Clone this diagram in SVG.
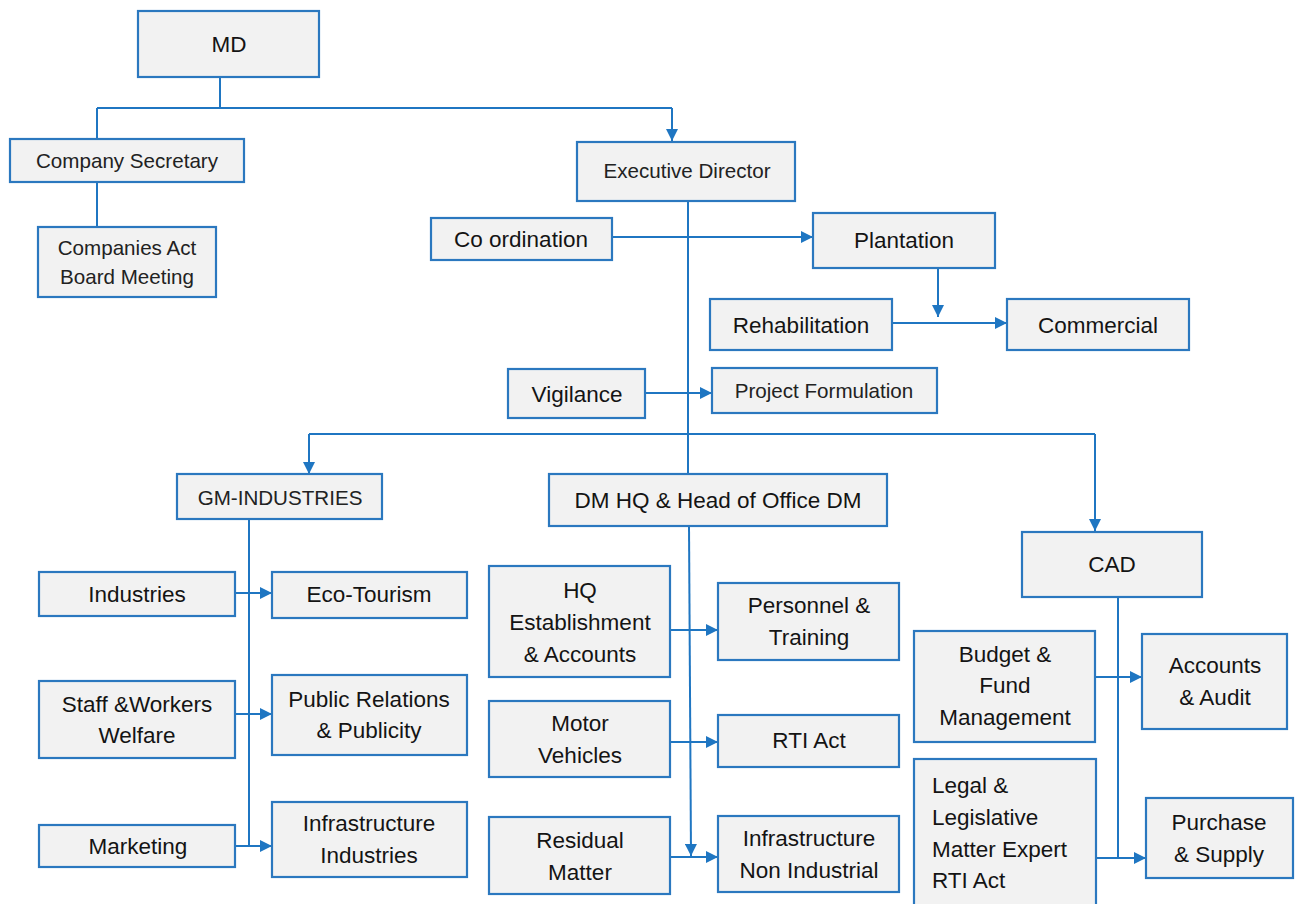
<svg xmlns="http://www.w3.org/2000/svg" width="1296" height="904" viewBox="0 0 1296 904">
  <style>
    .box { fill: #f2f2f2; stroke: #2b78bf; stroke-width: 2.2; }
    .t { font-family: "Liberation Sans", Arial, sans-serif; font-size: 22.5px; fill: #141414; text-anchor: middle; }
    .s { font-family: "Liberation Sans", Arial, sans-serif; font-size: 20.6px; fill: #222; text-anchor: middle; }
    .l { text-anchor: start; }
    .wire { fill: none; stroke: #1f76c2; stroke-width: 2; }
    .arr { marker-end: url(#head); }
  </style>
  <defs>
    <marker id="head" markerUnits="userSpaceOnUse" markerWidth="12" markerHeight="12" refX="12" refY="6" orient="auto">
      <path d="M0,0 L12,6 L0,12 z" fill="#1f76c2"/>
    </marker>
  </defs>
  <rect width="1296" height="904" fill="#ffffff"/>

  <g id="connectors">
    <!-- MD to its two reports -->
    <path class="wire" d="M220,77 V108"/>
    <path class="wire" d="M97,108 H672"/>
    <path class="wire arr" d="M672,108 V141"/>
    <path class="wire" d="M97,108 V139"/>
    <path class="wire" d="M97,182 V227"/>
    <!-- Executive Director spine -->
    <path class="wire" d="M688,201 V474"/>
    <path class="wire arr" d="M612,237 H813"/>
    <path class="wire arr" d="M938,268 V317"/>
    <path class="wire arr" d="M892,323 H1007"/>
    <path class="wire arr" d="M645,393 H712"/>
    <!-- division bus -->
    <path class="wire" d="M309,434 H1095"/>
    <path class="wire arr" d="M309,434 V474"/>
    <path class="wire arr" d="M1095,434 V531"/>
    <!-- GM-INDUSTRIES column -->
    <path class="wire" d="M249,519 V846"/>
    <path class="wire arr" d="M235,593 H272"/>
    <path class="wire arr" d="M235,714 H272"/>
    <path class="wire arr" d="M235,846 H272"/>
    <!-- DM HQ column -->
    <path class="wire arr" d="M689,526 L691,856"/>
    <path class="wire arr" d="M670,630 H718"/>
    <path class="wire arr" d="M670,742 H718"/>
    <path class="wire arr" d="M670,857 H718"/>
    <!-- CAD column -->
    <path class="wire" d="M1118,597 V858"/>
    <path class="wire arr" d="M1095,677 H1142"/>
    <path class="wire arr" d="M1096,858 H1146"/>
  </g>

  <g id="md">
    <rect class="box" x="138" y="11" width="181" height="66"/>
    <text class="t" x="229" y="52">MD</text>
  </g>
  <g id="company-secretary">
    <rect class="box" x="10" y="139" width="234" height="43"/>
    <text class="s" x="127" y="168">Company Secretary</text>
  </g>
  <g id="companies-act">
    <rect class="box" x="38" y="227" width="178" height="70"/>
    <text class="s" x="127" y="255">Companies Act</text>
    <text class="s" x="127" y="284">Board Meeting</text>
  </g>
  <g id="executive-director">
    <rect class="box" x="577" y="142" width="218" height="59"/>
    <text class="s" x="687" y="178" fill="#333">Executive Director</text>
  </g>
  <g id="coordination">
    <rect class="box" x="431" y="218" width="181" height="42"/>
    <text class="t" x="521" y="247">Co ordination</text>
  </g>
  <g id="plantation">
    <rect class="box" x="813" y="213" width="182" height="55"/>
    <text class="t" x="904" y="248">Plantation</text>
  </g>
  <g id="rehabilitation">
    <rect class="box" x="710" y="299" width="182" height="51"/>
    <text class="t" x="801" y="333">Rehabilitation</text>
  </g>
  <g id="commercial">
    <rect class="box" x="1007" y="299" width="182" height="51"/>
    <text class="t" x="1098" y="333">Commercial</text>
  </g>
  <g id="vigilance">
    <rect class="box" x="508" y="369" width="137" height="49"/>
    <text class="t" x="577" y="402">Vigilance</text>
  </g>
  <g id="project-formulation">
    <rect class="box" x="712" y="368" width="225" height="45"/>
    <text class="s" x="824" y="398">Project Formulation</text>
  </g>

  <g id="gm-industries">
    <rect class="box" x="177" y="474" width="205" height="45"/>
    <text class="s" x="280" y="505">GM-INDUSTRIES</text>
  </g>
  <g id="dm-hq">
    <rect class="box" x="549" y="474" width="338" height="52"/>
    <text class="t" x="718" y="508">DM HQ &amp; Head of Office DM</text>
  </g>
  <g id="cad">
    <rect class="box" x="1022" y="532" width="180" height="65"/>
    <text class="t" x="1112" y="572">CAD</text>
  </g>

  <g id="industries">
    <rect class="box" x="39" y="572" width="196" height="44"/>
    <text class="t" x="137" y="602">Industries</text>
  </g>
  <g id="eco-tourism">
    <rect class="box" x="272" y="572" width="195" height="46"/>
    <text class="t" x="369" y="602">Eco-Tourism</text>
  </g>
  <g id="staff-welfare">
    <rect class="box" x="39" y="681" width="196" height="77"/>
    <text class="t" x="137" y="712">Staff &amp;Workers</text>
    <text class="t" x="137" y="743">Welfare</text>
  </g>
  <g id="public-relations">
    <rect class="box" x="272" y="675" width="195" height="80"/>
    <text class="t" x="369" y="707">Public Relations</text>
    <text class="t" x="369" y="738">&amp; Publicity</text>
  </g>
  <g id="marketing">
    <rect class="box" x="39" y="825" width="196" height="42"/>
    <text class="t" x="138" y="854">Marketing</text>
  </g>
  <g id="infrastructure-industries">
    <rect class="box" x="272" y="802" width="195" height="75"/>
    <text class="t" x="369" y="831">Infrastructure</text>
    <text class="t" x="369" y="863">Industries</text>
  </g>

  <g id="hq-establishment">
    <rect class="box" x="489" y="566" width="181" height="111"/>
    <text class="t" x="580" y="598">HQ</text>
    <text class="t" x="580" y="630">Establishment</text>
    <text class="t" x="580" y="662">&amp; Accounts</text>
  </g>
  <g id="personnel-training">
    <rect class="box" x="718" y="583" width="181" height="77"/>
    <text class="t" x="809" y="613">Personnel &amp;</text>
    <text class="t" x="809" y="645">Training</text>
  </g>
  <g id="motor-vehicles">
    <rect class="box" x="489" y="701" width="181" height="76"/>
    <text class="t" x="580" y="731">Motor</text>
    <text class="t" x="580" y="763">Vehicles</text>
  </g>
  <g id="rti-act">
    <rect class="box" x="718" y="715" width="181" height="52"/>
    <text class="t" x="809" y="748">RTI Act</text>
  </g>
  <g id="residual-matter">
    <rect class="box" x="489" y="817" width="181" height="77"/>
    <text class="t" x="580" y="848">Residual</text>
    <text class="t" x="580" y="880">Matter</text>
  </g>
  <g id="infrastructure-non-industrial">
    <rect class="box" x="718" y="816" width="181" height="76"/>
    <text class="t" x="809" y="846">Infrastructure</text>
    <text class="t" x="809" y="878">Non Industrial</text>
  </g>

  <g id="budget-fund">
    <rect class="box" x="914" y="631" width="181" height="111"/>
    <text class="t" x="1005" y="662">Budget &amp;</text>
    <text class="t" x="1005" y="693">Fund</text>
    <text class="t" x="1005" y="725">Management</text>
  </g>
  <g id="accounts-audit">
    <rect class="box" x="1142" y="634" width="145" height="95"/>
    <text class="t" x="1215" y="673">Accounts</text>
    <text class="t" x="1215" y="705">&amp; Audit</text>
  </g>
  <g id="legal">
    <rect class="box" x="914" y="759" width="182" height="160"/>
    <text class="t l" x="932" y="793">Legal &amp;</text>
    <text class="t l" x="932" y="825">Legislative</text>
    <text class="t l" x="932" y="857">Matter Expert</text>
    <text class="t l" x="932" y="888">RTI Act</text>
  </g>
  <g id="purchase-supply">
    <rect class="box" x="1146" y="798" width="147" height="80"/>
    <text class="t" x="1219" y="830">Purchase</text>
    <text class="t" x="1219" y="862">&amp; Supply</text>
  </g>
</svg>
